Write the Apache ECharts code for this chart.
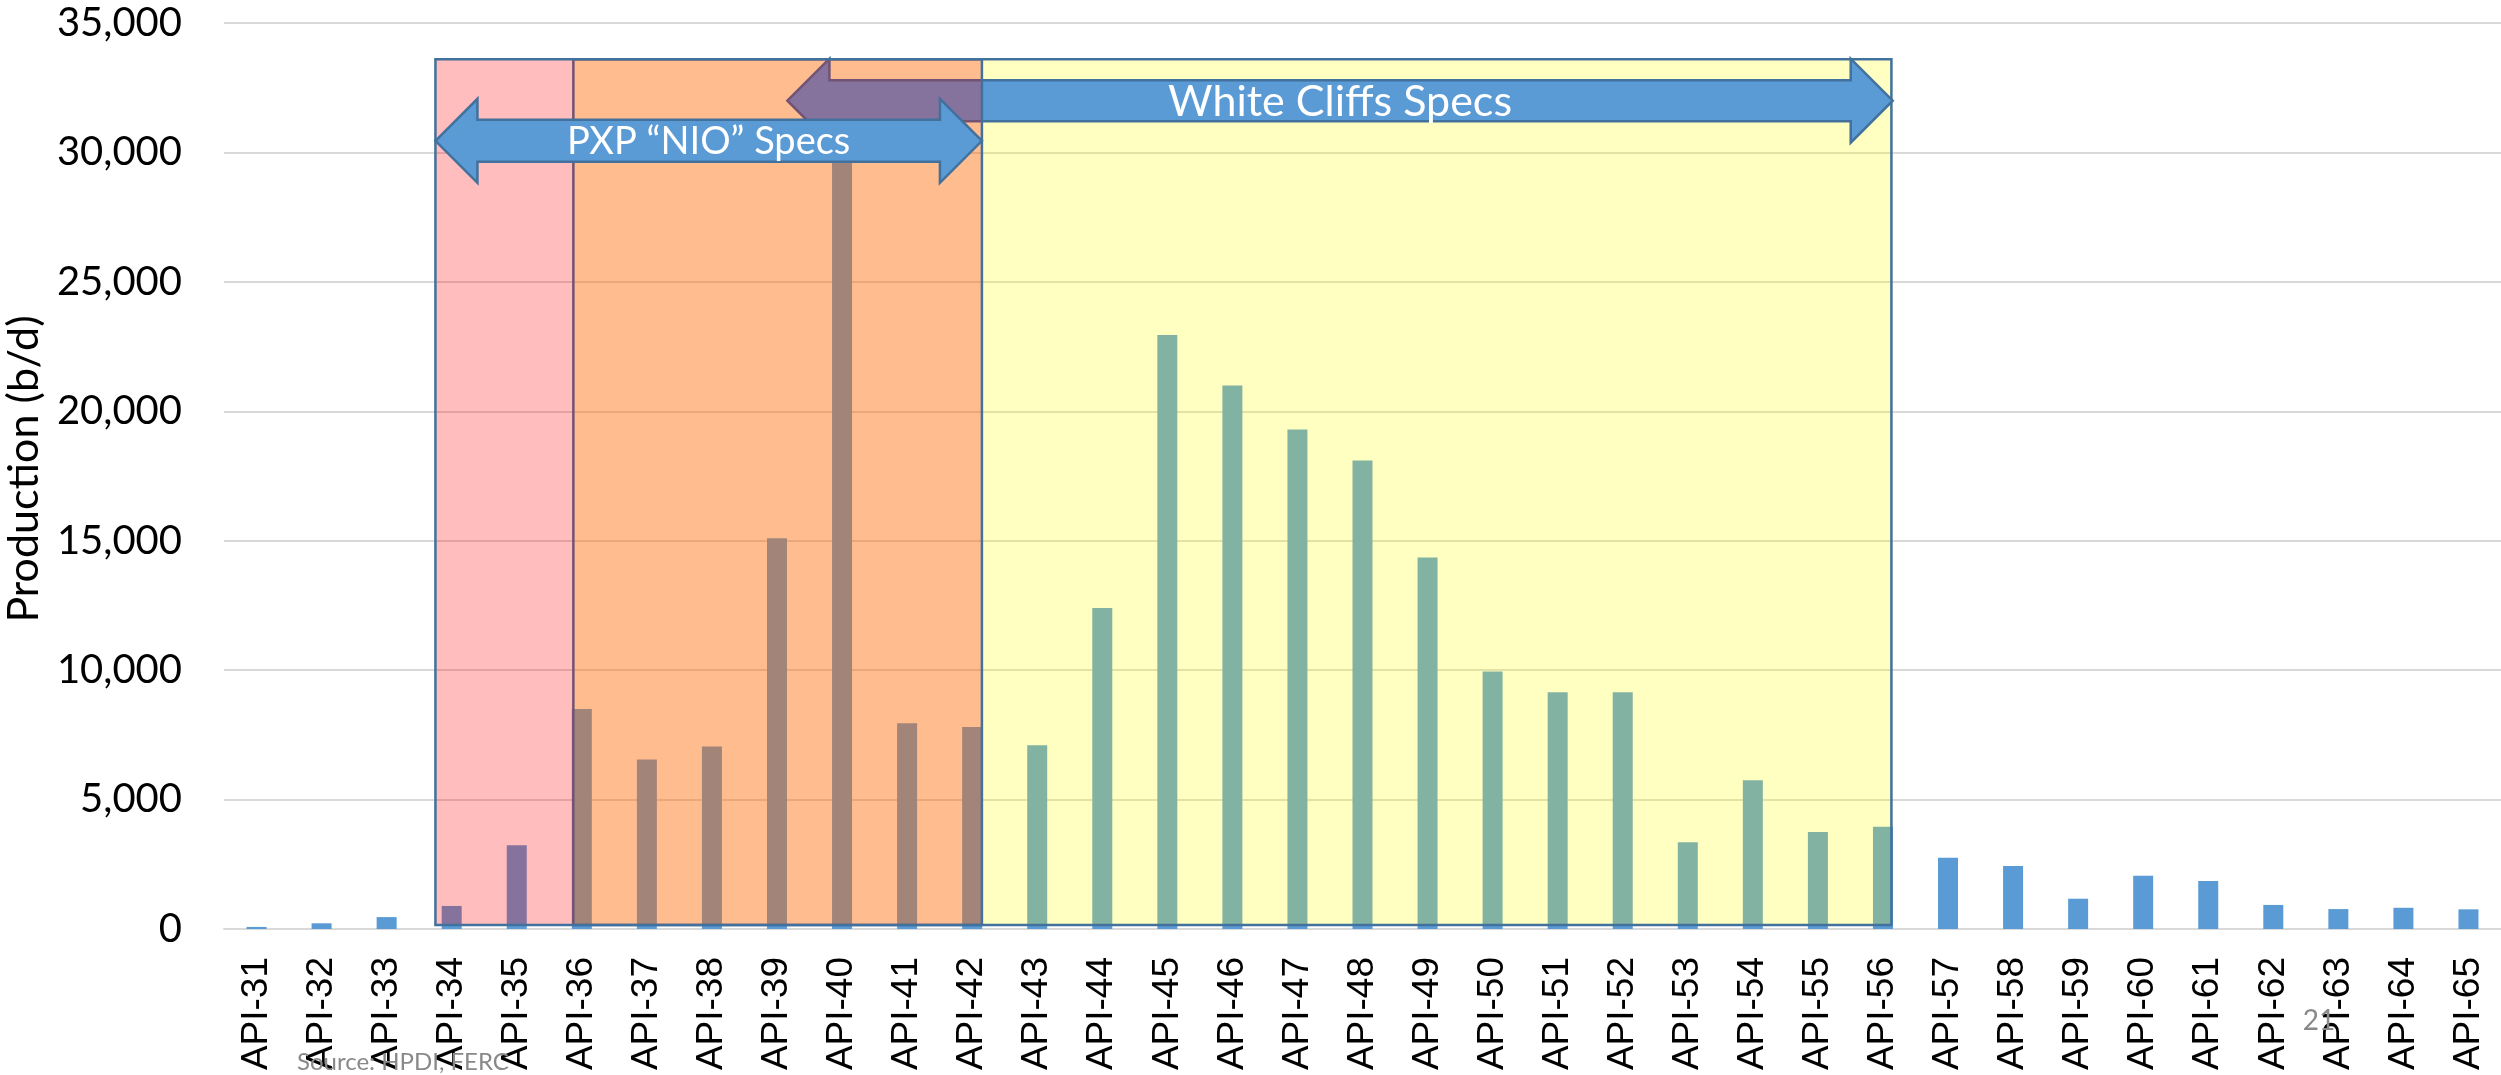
<!DOCTYPE html>
<html>
<head>
<meta charset="utf-8">
<script src="https://cdn.jsdelivr.net/npm/echarts@6/dist/echarts.min.js"></script>
<style>
    html, body { margin: 0; padding: 0; background: #fff; }
    #myChart { width: 2501px; height: 1075px; }
</style>
</head>
<body>
<div id="myChart"></div>
<script>
const categories = ['API-31', 'API-32', 'API-33', 'API-34', 'API-35', 'API-36', 'API-37', 'API-38', 'API-39', 'API-40',
    'API-41', 'API-42', 'API-43', 'API-44', 'API-45', 'API-46', 'API-47', 'API-48', 'API-49', 'API-50',
    'API-51', 'API-52', 'API-53', 'API-54', 'API-55', 'API-56', 'API-57', 'API-58', 'API-59', 'API-60',
    'API-61', 'API-62', 'API-63', 'API-64', 'API-65'];
const production = [80, 220, 460, 890, 3240, 8500, 6550, 7050, 15100, 30400,
    7950, 7800, 7100, 12400, 22950, 21000, 19300, 18100, 14350, 9950,
    9150, 9150, 3350, 5750, 3750, 3950, 2750, 2430, 1170, 2060,
    1850, 930, 770, 820, 760];
const yTicks = [0, 5000, 10000, 15000, 20000, 25000, 30000, 35000];

// spec ranges, in category index units (API-31 = 0) and production values
const pxpRange = [2.75, 11.15];
const whiteCliffsRange = [4.87, 25.13];
const whiteCliffsArrowRange = [8.16, 25.15];
const boxTopValue = 33600;
const boxBottomValue = 150;
const pxpArrowValue = 30450;
const whiteCliffsArrowValue = 32000;

const LABEL_FONT = 'Lato, "Open Sans", sans-serif';

let myChart = echarts.init(document.getElementById('myChart'));

let option = {
    animation: false,
    backgroundColor: '#ffffff',
    grid: { left: 224, right: 0, top: 23, bottom: 146, outerBoundsMode: 'none', containLabel: false },
    xAxis: {
        type: 'category',
        data: categories,
        axisTick: { show: false },
        axisLine: { lineStyle: { color: '#D9D9D9', width: 2 } },
        axisLabel: {
            interval: 0,
            rotate: 90,
            margin: 28,
            color: '#000',
            fontSize: 37,
            fontFamily: '"Liberation Sans", Arial, sans-serif'
        }
    },
    yAxis: {
        type: 'value',
        min: yTicks[0],
        max: yTicks[yTicks.length - 1],
        interval: 5000,
        name: 'Production (b/d)',
        nameLocation: 'middle',
        nameGap: 170,
        nameTextStyle: {
            color: '#000',
            fontSize: 43,
            fontFamily: LABEL_FONT,
            padding: [0, 0, 0, 14]
        },
        axisLine: { show: false },
        axisTick: { show: false },
        splitLine: { lineStyle: { color: '#D9D9D9', width: 2 } },
        axisLabel: {
            margin: 42,
            color: '#000',
            fontSize: 40,
            fontFamily: LABEL_FONT,
            formatter: v => String(v).replace(/\B(?=(\d{3})+(?!\d))/g, ',')
        }
    },
    series: [{
        type: 'bar',
        data: production,
        barWidth: 20,
        itemStyle: { color: '#5B9BD5' }
    }]
};

option && myChart.setOption(option);

// annotation boxes and arrows, placed through the axes
function xAt(i) {
    const x0 = myChart.convertToPixel({ xAxisIndex: 0 }, categories[0]);
    const x1 = myChart.convertToPixel({ xAxisIndex: 0 }, categories[1]);
    return x0 + i * (x1 - x0);
}
function yAt(v) {
    return myChart.convertToPixel({ yAxisIndex: 0 }, v);
}
function doubleArrow(x1, x2, yc, shaft, head, headLen) {
    return [
        [x1, yc], [x1 + headLen, yc - head], [x1 + headLen, yc - shaft],
        [x2 - headLen, yc - shaft], [x2 - headLen, yc - head], [x2, yc],
        [x2 - headLen, yc + head], [x2 - headLen, yc + shaft],
        [x1 + headLen, yc + shaft], [x1 + headLen, yc + head]
    ];
}

const boxTop = yAt(boxTopValue);
const boxBottom = yAt(boxBottomValue);
const outline = '#41719C';

const wcL = xAt(whiteCliffsRange[0]), wcR = xAt(whiteCliffsRange[1]);
const pxL = xAt(pxpRange[0]), pxR = xAt(pxpRange[1]);
const wcAL = xAt(whiteCliffsArrowRange[0]), wcAR = xAt(whiteCliffsArrowRange[1]);
const pxY = yAt(pxpArrowValue), wcY = yAt(whiteCliffsArrowValue);

myChart.setOption({
    graphic: [
        {
            type: 'rect', z: 10,
            shape: { x: wcL, y: boxTop, width: wcR - wcL, height: boxBottom - boxTop },
            style: { fill: 'rgba(255,255,0,0.24)', stroke: outline, lineWidth: 2.5 }
        },
        {
            type: 'polygon', z: 11,
            shape: { points: doubleArrow(wcAL, wcAR, wcY, 20.5, 42, 42) },
            style: { fill: '#5B9BD5', stroke: outline, lineWidth: 2.5 }
        },
        {
            type: 'rect', z: 12,
            shape: { x: pxL, y: boxTop, width: pxR - pxL, height: boxBottom - boxTop },
            style: { fill: 'rgba(255,0,0,0.26)', stroke: outline, lineWidth: 2.5 }
        },
        {
            type: 'polygon', z: 13,
            shape: { points: doubleArrow(pxL, pxR, pxY, 21, 42, 42) },
            style: { fill: '#5B9BD5', stroke: outline, lineWidth: 2.5 }
        },
        {
            type: 'text', z: 14,
            style: {
                text: 'PXP \u201cNIO\u201d Specs', x: (pxL + pxR) / 2, y: pxY + 1,
                align: 'center', verticalAlign: 'middle',
                fill: '#fff', fontSize: 38, fontFamily: LABEL_FONT
            }
        },
        {
            type: 'text', z: 14,
            style: {
                text: 'White Cliffs Specs', x: (wcAL + wcAR) / 2, y: wcY + 1,
                align: 'center', verticalAlign: 'middle',
                fill: '#fff', fontSize: 43, fontFamily: LABEL_FONT
            }
        },
        {
            type: 'text', z: 15,
            style: {
                text: 'Source: HPDI, FERC', x: 297, y: 1062,
                align: 'left', verticalAlign: 'middle',
                fill: '#898989', fontSize: 24, fontFamily: LABEL_FONT
            }
        },
        {
            type: 'text', z: 15,
            style: {
                text: '21', x: 2319, y: 1021,
                align: 'center', verticalAlign: 'middle',
                fill: '#898989', fontSize: 28, fontFamily: LABEL_FONT
            }
        }
    ]
});

window.addEventListener('resize', () => {
    myChart.resize();
});
</script>
</body>
</html>
